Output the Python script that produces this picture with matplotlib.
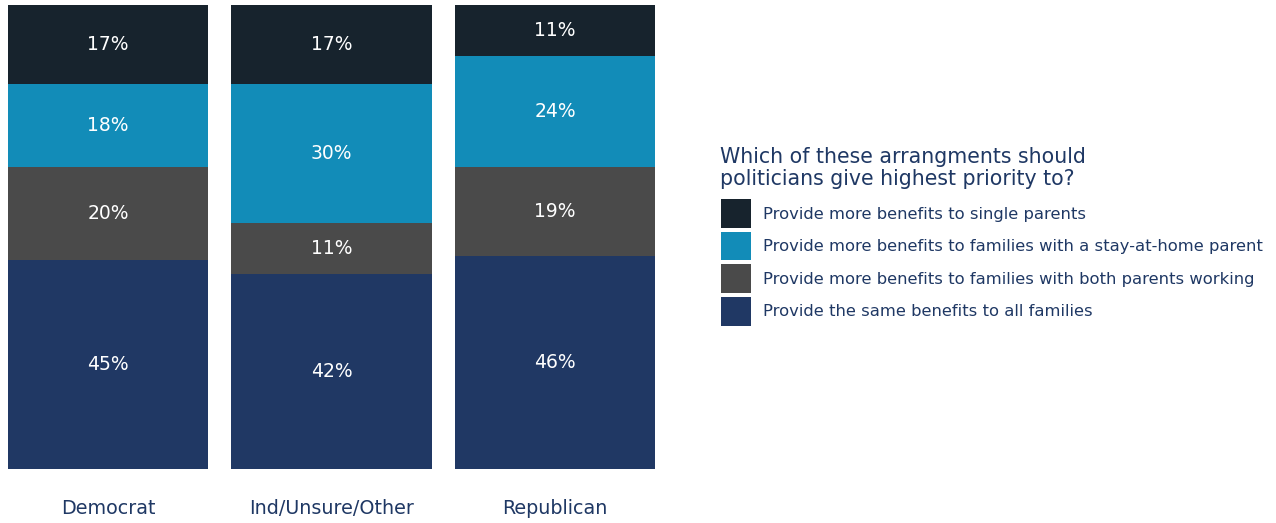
import numpy as np
import matplotlib.pyplot as plt

plt.rcParams['font.family'] = ['DejaVu Sans']

parties = ['Democrat', 'Ind/Unsure/Other', 'Republican']
answers = ['Provide more benefits to single parents',
           'Provide more benefits to families with a stay-at-home parent',
           'Provide more benefits to families with both parents working',
           'Provide the same benefits to all families']
single_parents = [17, 17, 11]
stay_at_home = [18, 30, 24]
both_working = [20, 11, 19]
same_for_all = [45, 42, 46]
colors = ['#17232d', '#128cb8', '#4a4a4a', '#203864']
navy = '#1f3864'

W, H = 1276, 523
fig = plt.figure(figsize=(W / 100, H / 100), dpi=100)
ax = fig.add_axes([0, (H - 469) / H, 680 / W, 464 / H])

x = np.arange(len(parties))
# stack from the bottom up: same benefits, both working, stay-at-home, single
stack = [same_for_all, both_working, stay_at_home, single_parents]
stack_labels = answers[::-1]
stack_colors = colors[::-1]
bottom = np.zeros(len(parties))
handles = {}
for vals, lab, col in zip(stack, stack_labels, stack_colors):
    vals = np.array(vals, dtype=float)
    bars = ax.bar(x, vals, bottom=bottom, width=0.895, color=col, label=lab)
    handles[lab] = bars
    for xi, b, v in zip(x, bottom, vals):
        ax.text(xi, b + v / 2, f'{int(v)}%', ha='center', va='center',
                color='white', fontsize=13.5)
    bottom += vals

ax.set_xlim(-0.483, 2.559)
ax.set_ylim(0, 100)
ax.axis('off')

for xi, p in zip(x, parties):
    ax.text(xi, -8.6, p, ha='center', va='center', color=navy, fontsize=13.8)

fig.text(720 / W, 1 - 147 / H,
         'Which of these arrangments should\npoliticians give highest priority to?',
         ha='left', va='top', color=navy, fontsize=14.8, linespacing=1.12)

fs = 11.8
leg = fig.legend([handles[a] for a in answers], answers,
                 loc='upper left', bbox_to_anchor=(721 / W, 1 - 199 / H),
                 frameon=False, fontsize=fs, labelcolor=navy,
                 handlelength=1.83, handleheight=2.34, labelspacing=0.22,
                 handletextpad=0.75, borderpad=0, borderaxespad=0)

fig.savefig('out.png', dpi=100)
